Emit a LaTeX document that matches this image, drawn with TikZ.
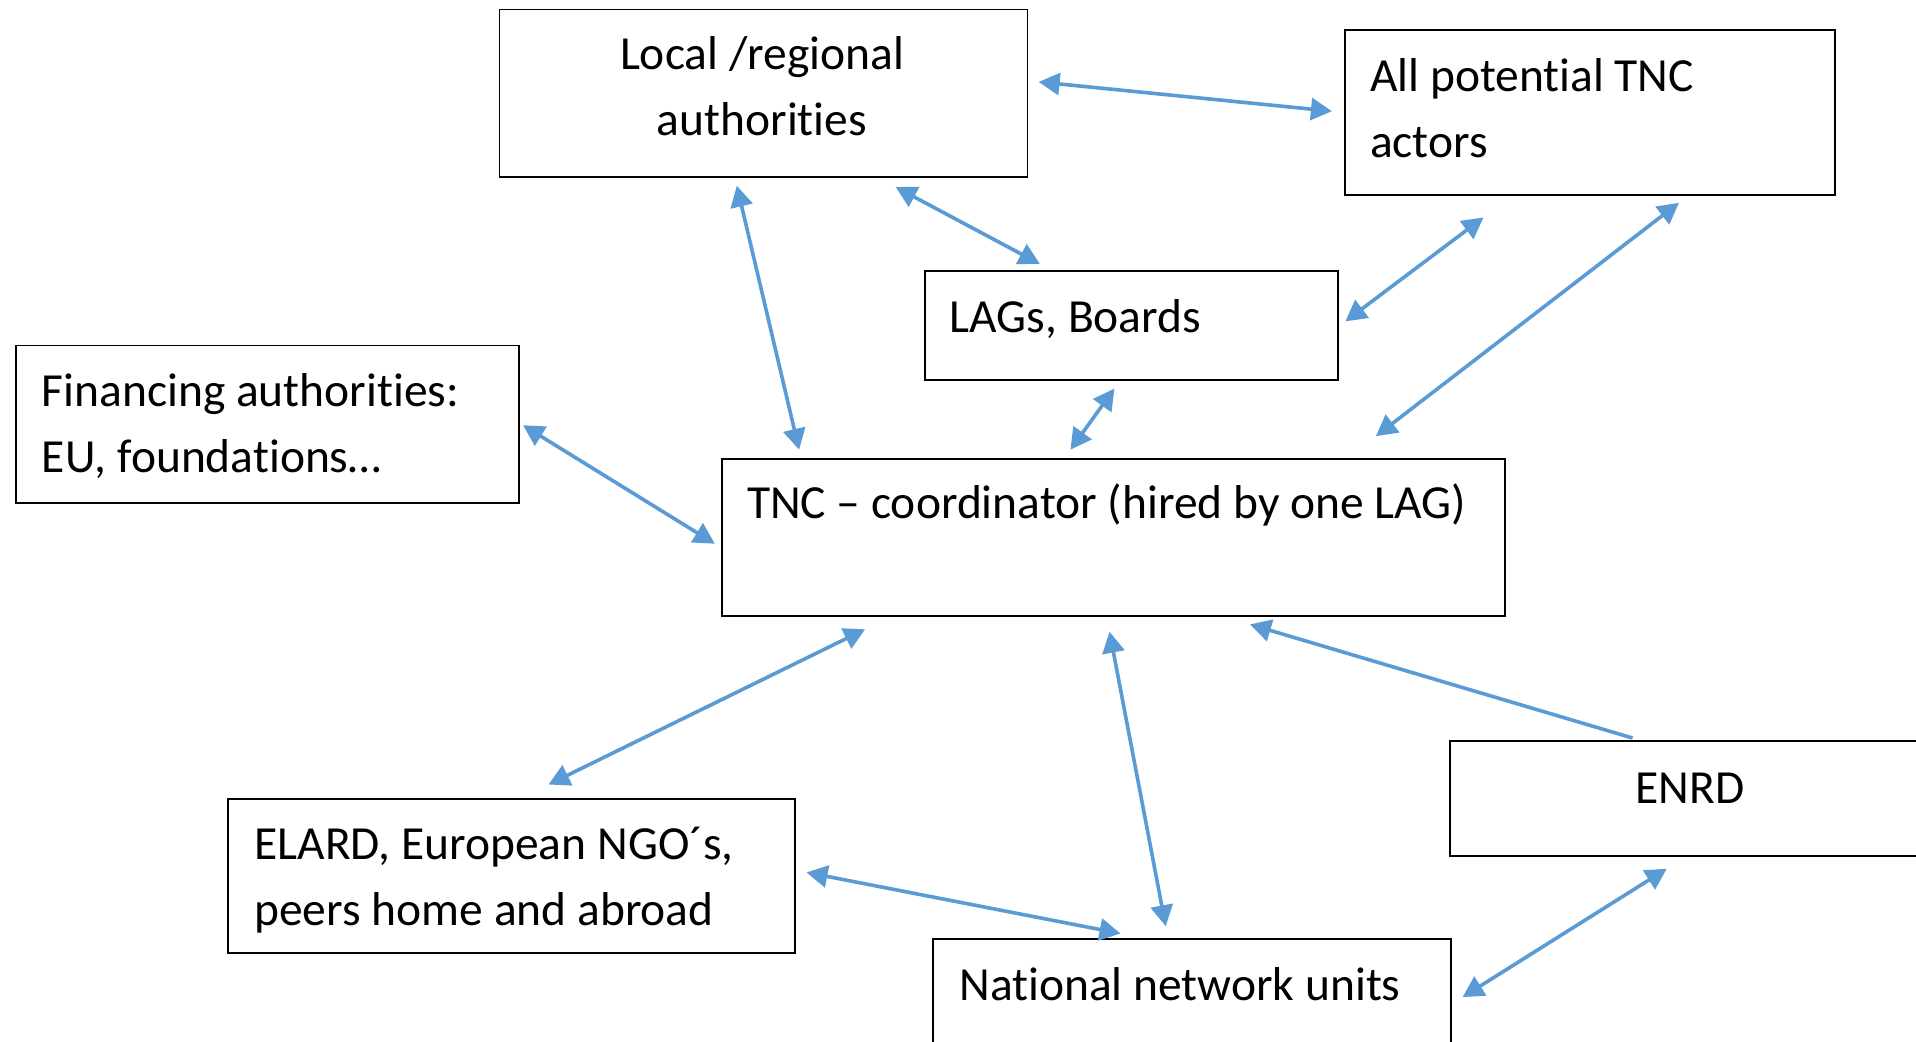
\documentclass[tikz,border=0pt]{standalone}
\usepackage{fontspec}
\setmainfont{Carlito}[Ligatures={NoCommon,TeX}]
\usetikzlibrary{arrows.meta}
\definecolor{arr}{RGB}{91,155,213}
\begin{document}
\begin{tikzpicture}[x=0.5pt,y=-0.5pt,
  box/.style={draw,line width=0.9pt,rectangle,inner sep=0pt,anchor=north west},
  lbl/.style={inner sep=0pt,anchor=base west,font=\fontsize{23.75pt}{28pt}\selectfont},
  link/.style={draw=arr,line width=1.8pt,{Triangle[length=10.5pt,width=11pt]}-{Triangle[length=10.5pt,width=11pt]}},
  oneway/.style={draw=arr,line width=1.8pt,-{Triangle[length=10.5pt,width=11pt]}}]
\clip (0,0) rectangle (1916,1041);
\fill[white] (0,0) rectangle (1916,1041);
% boxes
\node[box,minimum width=264pt,minimum height=83.7pt] (loc) at (498.5,8.6) {};
\node[box,minimum width=245pt,minimum height=82.5pt] (all) at (1344,29) {};
\node[box,minimum width=206.5pt,minimum height=54.5pt] (lag) at (924,270) {};
\node[box,minimum width=251.65pt,minimum height=78.7pt] (fin) at (14.7,344.6) {};
\node[box,minimum width=391.5pt,minimum height=78.5pt] (tnc) at (721,458) {};
\node[box,minimum width=283.5pt,minimum height=77pt] (elard) at (227,798) {};
\node[box,minimum width=259pt,minimum height=81pt] (nat) at (932,938) {};
\node[box,minimum width=275.5pt,minimum height=57.5pt] (enrd) at (1449,740) {};
% texts
\node[lbl,anchor=base] (locA) at (762,69) {Local /regional};
\node[lbl,anchor=base] (locB) at (762,135) {authorities};
\node[lbl] (allA) at (1369.7,91.6) {All potential TNC};
\node[lbl] (allB) at (1369.7,157.6) {actors};
\node[lbl] (lagT) at (949.4,332.4) {LAGs, Boards};
\node[lbl] (finA) at (41.5,406) {Financing authorities:};
\node[lbl] (finB) at (41.5,472) {EU, foundations…};
\node[lbl] (tncT) at (746.6,518) {TNC – coordinator (hired by one LAG)};
\node[lbl] (elA) at (254,859) {ELARD, European NGO´s,};
\node[lbl] (elB) at (254,925) {peers home and abroad};
\node[lbl] (natT) at (959,1000) {National network units};
\node[lbl,anchor=base] (enrdT) at (1690,803) {ENRD};
% connectors
\draw[link] ([shift={(540.1,73.3)}]loc.north west) -- ([shift={(-12.1,82.2)}]all.north west);
\draw[link] ([shift={(238.3,177.1)}]loc.north west) -- ([shift={(78.1,-8.3)}]tnc.north west);
\draw[link] ([shift={(397.1,178.4)}]loc.north west) -- ([shift={(115.8,-6.1)}]lag.north west);
\draw[link] ([shift={(421.3,51.4)}]lag.north west) -- ([shift={(139.4,188.5)}]all.north west);
\draw[link] ([shift={(654.9,-21.8)}]tnc.north west) -- ([shift={(334.9,173.8)}]all.north west);
\draw[link] ([shift={(190.4,118.6)}]lag.north west) -- ([shift={(349.4,-8.3)}]tnc.north west);
\draw[link] ([shift={(508.3,80.6)}]fin.north west) -- ([shift={(-6.2,85.7)}]tnc.north west);
\draw[link] ([shift={(144.1,171.3)}]tnc.north west) -- ([shift={(321.6,-13.5)}]elard.north west);
\draw[link] ([shift={(388.5,173.7)}]tnc.north west) -- ([shift={(233.7,-11.8)}]nat.north west);
\draw[oneway] ([shift={(183.5,-2)}]enrd.north west) -- ([shift={(529,166.4)}]tnc.north west);
\draw[link] ([shift={(579.5,74.4)}]elard.north west) -- ([shift={(188.5,-4.5)}]nat.north west);
\draw[link] ([shift={(530.6,59.1)}]nat.north west) -- ([shift={(217.7,128.8)}]enrd.north west);
\end{tikzpicture}
\end{document}
